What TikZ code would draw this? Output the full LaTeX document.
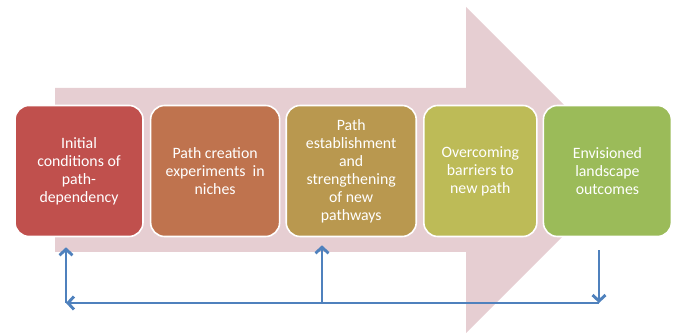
\documentclass[tikz,border=0pt]{standalone}
\usepackage{fontspec}
\setmainfont{Carlito}
\usetikzlibrary{positioning,arrows.meta}
\definecolor{arrowpink}{RGB}{230,206,210}
\definecolor{stageA}{RGB}{192,80,77}
\definecolor{stageB}{RGB}{191,115,78}
\definecolor{stageC}{RGB}{185,152,79}
\definecolor{stageD}{RGB}{189,187,87}
\definecolor{stageE}{RGB}{155,187,89}
\definecolor{fbblue}{RGB}{79,129,189}

\begin{document}
\begin{tikzpicture}[x=1pt,y=1pt,
    stage/.style={rounded corners=14pt,draw=white,line width=1.6pt,text=white,
      minimum height=131pt,align=center,inner sep=0pt,
      font=\fontsize{15.8}{18}\selectfont},
    loop/.style={draw=fbblue,line width=2.9pt,-{Straight Barb[length=6pt,width=13pt]}}]
    \useasboundingbox (0,0) rectangle (676,336);

    % big background arrow
    \fill[arrowpink] (55,84) -- (466,84) -- (466,3) -- (629,166)
      -- (466,329) -- (466,248) -- (55,248) -- cycle;

    \node[stage,fill=stageA,minimum width=128pt] (init) at (79,165)
      {Initial\\conditions of\\path-\\dependency};
    \node[stage,fill=stageB,minimum width=129pt,right=6pt of init] (niche)
      {Path creation\\experiments\ \ in\\niches};
    \node[stage,fill=stageC,minimum width=130pt,right=5pt of niche] (estab)
      {Path\\establishment\\and\\strengthening\\of new\\pathways};
    \node[stage,fill=stageD,minimum width=113pt,right=6pt of estab] (barrier)
      {Overcoming\\barriers to\\new path};
    \node[stage,fill=stageE,minimum width=128pt,right=5pt of barrier] (vision)
      {Envisioned\\landscape\\outcomes};

    % feedback loop
    \coordinate (fbL) at (66,33); \coordinate (fbM) at (322,33);
    \coordinate (fbR) at (599,33);
    \draw[loop] (fbR) -- (fbL);
    \draw[loop] (fbL) -- ([yshift=-10pt]init.south -| fbL);
    \draw[loop] (fbM) -- ([yshift=-8pt]estab.south -| fbM);
    \draw[loop] ([yshift=-13pt]vision.south -| fbR) -- (fbR);
\end{tikzpicture}
\end{document}
